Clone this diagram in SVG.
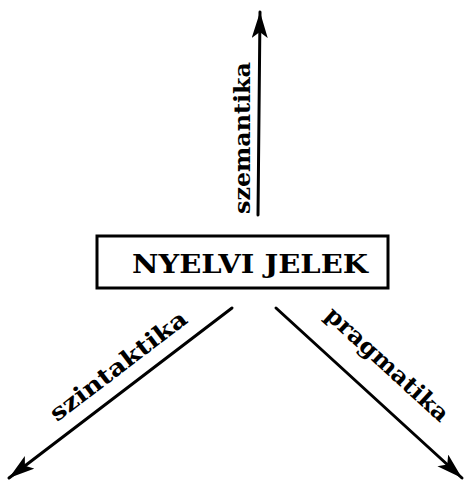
<svg xmlns="http://www.w3.org/2000/svg" width="469" height="484" viewBox="0 0 469 484">
<style>
text{font-family:"DejaVu Serif","Liberation Serif",serif;font-weight:bold;fill:#000}
.lbl{font-size:23px}
.edge{stroke:#000;stroke-width:3;fill:none;stroke-linecap:round}
</style>
<defs>
<marker id="ah" markerUnits="userSpaceOnUse" markerWidth="30" markerHeight="20" refX="26" refY="8" orient="auto">
<path d="M0,0 L26,8 L0,16 L6,8 Z" fill="#000"/>
</marker>
</defs>
<rect width="469" height="484" fill="#fff"/>
<g id="node-nyelvi-jelek">
<rect x="97" y="236" width="291" height="52" fill="#fff" stroke="#000" stroke-width="3"/>
<text x="250" y="273" font-size="26" text-anchor="middle" textLength="236" lengthAdjust="spacingAndGlyphs">NYELVI JELEK</text>
</g>
<g id="connectors">
<line class="edge" x1="258" y1="215" x2="260" y2="12" marker-end="url(#ah)"/>
<line class="edge" x1="232" y1="308" x2="9" y2="478" marker-end="url(#ah)"/>
<line class="edge" x1="276" y1="308" x2="462" y2="478" marker-end="url(#ah)"/>
</g>
<g id="labels">
<text class="lbl" transform="translate(250,138) rotate(-90)" text-anchor="middle" textLength="152" lengthAdjust="spacingAndGlyphs">szemantika</text>
<text class="lbl" transform="translate(123,372) rotate(-37.3)" text-anchor="middle" textLength="166" lengthAdjust="spacingAndGlyphs">szintaktika</text>
<text class="lbl" transform="translate(382,370) rotate(42.4)" text-anchor="middle" textLength="158" lengthAdjust="spacingAndGlyphs">pragmatika</text>
</g>
</svg>
